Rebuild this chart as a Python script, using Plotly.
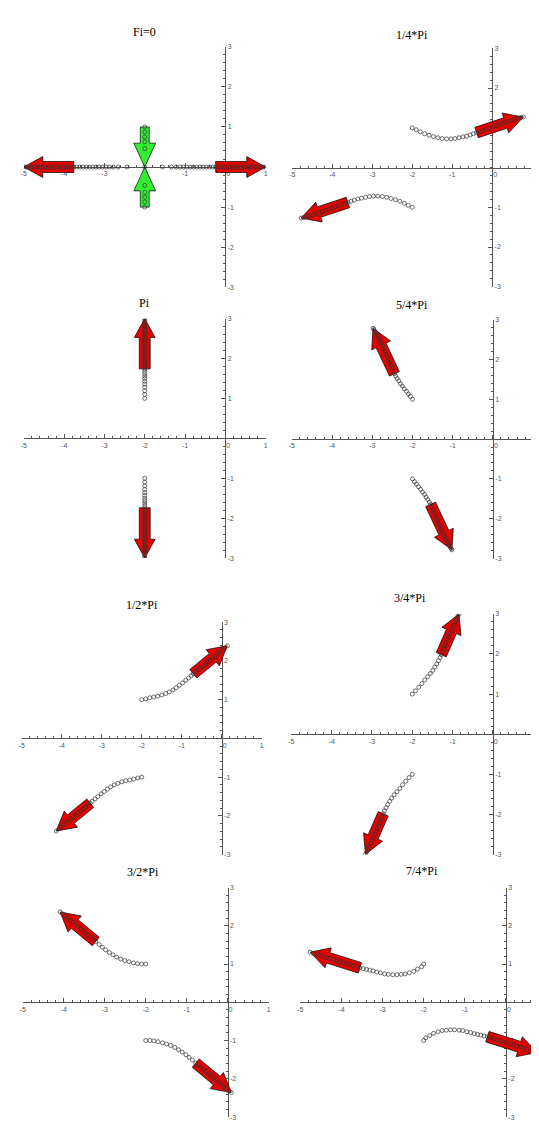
import math
import plotly.graph_objects as go

W, H = 539, 1122

TITLES = ["Fi=0", "1/4*Pi", "Pi", "5/4*Pi", "1/2*Pi", "3/4*Pi", "3/2*Pi", "7/4*Pi"]
X_TICKVALS = [-5, -4, -3, -2, -1, 0, 1]
X_TICKTEXT = ["-5", "-4", "-3", "-2", "-1", "\u00a0\u00a0\u00a00", "1"]
Y_TICKVALS = [-3, -2, -1, 1, 2, 3]
Y_TICKTEXT = ["-3", "-2", "-1", "1", "2", "3"]

# ---------------- Panel 1: Fi=0 ----------------
P1_R_X = [-1.56, -1.34, -1.22, -1.12, -1.04, -0.95, -0.87, -0.79, -0.71, -0.63, -0.55, -0.47, -0.39,
          -0.31, -0.24, -0.17, -0.10, -0.03, 0.04, 0.11, 0.18, 0.25, 0.32, 0.39, 0.46, 0.53, 0.60,
          0.67, 0.74, 0.81, 0.88, 0.94, 1.00]
P1_R_Y = [0.0] * len(P1_R_X)
P1_L_X = [-2.44, -2.66, -2.78, -2.88, -2.96, -3.05, -3.13, -3.21, -3.29, -3.37, -3.45, -3.53, -3.61,
          -3.69, -3.76, -3.83, -3.90, -3.97, -4.04, -4.11, -4.18, -4.25, -4.32, -4.39, -4.46, -4.53,
          -4.60, -4.67, -4.74, -4.81, -4.88, -4.94, -5.00]
P1_L_Y = [0.0] * len(P1_L_X)
P1_UP_Y = [1.00, 0.87, 0.75, 0.63, 0.46, 0.0]
P1_UP_X = [-2.0] * len(P1_UP_Y)
P1_DN_Y = [-1.00, -0.87, -0.75, -0.63, -0.46]
P1_DN_X = [-2.0] * len(P1_DN_Y)
P1_TAILS = [(-0.24, 0.0), (-3.76, 0.0)]
P1_GREEN = [(-2.0, 1.0, -2.0, 0.0), (-2.0, -1.0, -2.0, 0.0)]

# ---------------- Panel 2: 1/4*Pi ----------------
P2_A_X = [-2.00, -1.90, -1.80, -1.69, -1.58, -1.47, -1.36, -1.25, -1.14, -1.03, -0.93, -0.83, -0.73,
          -0.64, -0.55, -0.47, -0.39, -0.31, -0.23, -0.15, -0.07, 0.01, 0.09, 0.17, 0.25, 0.33,
          0.41, 0.49, 0.57, 0.65, 0.72, 0.78]
P2_A_Y = [1.00, 0.95, 0.90, 0.85, 0.81, 0.78, 0.75, 0.73, 0.72, 0.72, 0.73, 0.75, 0.77, 0.79, 0.82,
          0.85, 0.88, 0.90, 0.93, 0.96, 0.99, 1.02, 1.05, 1.08, 1.11, 1.14, 1.16, 1.19, 1.21, 1.24,
          1.26, 1.27]
P2_B_X = [-2.00, -2.10, -2.20, -2.31, -2.42, -2.53, -2.64, -2.75, -2.86, -2.97, -3.07, -3.17, -3.27,
          -3.36, -3.45, -3.53, -3.61, -3.69, -3.77, -3.85, -3.93, -4.01, -4.09, -4.17, -4.25, -4.33,
          -4.41, -4.49, -4.57, -4.65, -4.72, -4.78]
P2_B_Y = [-1.00, -0.95, -0.90, -0.85, -0.81, -0.78, -0.75, -0.73, -0.72, -0.72, -0.73, -0.75, -0.77,
          -0.79, -0.82, -0.85, -0.88, -0.90, -0.93, -0.96, -0.99, -1.02, -1.05, -1.08, -1.11, -1.14,
          -1.16, -1.19, -1.21, -1.24, -1.26, -1.27]
P2_TAILS = [(-0.39, 0.88), (-3.61, -0.88)]

# ---------------- Panel 3: Pi ----------------
P3_A_Y = [1.00, 1.10, 1.19, 1.28, 1.36, 1.43, 1.50, 1.56, 1.62, 1.68, 1.74, 1.80, 1.86, 1.92, 1.98,
          2.04, 2.10, 2.16, 2.22, 2.28, 2.34, 2.40, 2.46, 2.52, 2.58, 2.64, 2.70, 2.76, 2.82, 2.88,
          2.94, 3.00]
P3_A_X = [-2.0] * len(P3_A_Y)
P3_B_Y = [-1.00, -1.10, -1.19, -1.28, -1.36, -1.43, -1.50, -1.56, -1.62, -1.68, -1.74, -1.80, -1.86,
          -1.92, -1.98, -2.04, -2.10, -2.16, -2.22, -2.28, -2.34, -2.40, -2.46, -2.52, -2.58, -2.64,
          -2.70, -2.76, -2.82, -2.88, -2.94, -3.00]
P3_B_X = [-2.0] * len(P3_B_Y)
P3_TAILS = [(-2.0, 1.74), (-2.0, -1.74)]

# ---------------- Panel 4: 5/4*Pi ----------------
P4_A_X = [-2.00, -2.05, -2.10, -2.15, -2.20, -2.25, -2.30, -2.34, -2.38, -2.42, -2.45, -2.48, -2.51,
          -2.54, -2.57, -2.60, -2.63, -2.66, -2.69, -2.72, -2.75, -2.78, -2.81, -2.84, -2.87, -2.90,
          -2.93, -2.96, -2.98]
P4_A_Y = [1.00, 1.07, 1.13, 1.20, 1.26, 1.33, 1.39, 1.46, 1.52, 1.58, 1.64, 1.71, 1.78, 1.85, 1.92,
          1.99, 2.06, 2.13, 2.20, 2.27, 2.34, 2.41, 2.47, 2.53, 2.59, 2.65, 2.70, 2.75, 2.78]
P4_B_X = [-2.00, -1.95, -1.90, -1.85, -1.80, -1.75, -1.70, -1.66, -1.62, -1.58, -1.55, -1.52, -1.49,
          -1.46, -1.43, -1.40, -1.37, -1.34, -1.31, -1.28, -1.25, -1.22, -1.19, -1.16, -1.13, -1.10,
          -1.07, -1.04, -1.02]
P4_B_Y = [-1.00, -1.07, -1.13, -1.20, -1.26, -1.33, -1.39, -1.46, -1.52, -1.58, -1.64, -1.71, -1.78,
          -1.85, -1.92, -1.99, -2.06, -2.13, -2.20, -2.27, -2.34, -2.41, -2.47, -2.53, -2.59, -2.65,
          -2.70, -2.75, -2.78]
P4_TAILS = [(-2.45, 1.64), (-1.55, -1.64)]

# ---------------- Panel 5: 1/2*Pi ----------------
P5_A_X = [-2.00, -1.90, -1.80, -1.70, -1.60, -1.50, -1.40, -1.31, -1.22, -1.14, -1.06, -0.98, -0.90,
          -0.83, -0.76, -0.71, -0.65, -0.59, -0.53, -0.47, -0.41, -0.35, -0.29, -0.23, -0.17, -0.11,
          -0.05, 0.01, 0.07, 0.14]
P5_A_Y = [1.00, 1.02, 1.05, 1.07, 1.09, 1.12, 1.16, 1.20, 1.25, 1.31, 1.37, 1.43, 1.50, 1.56, 1.62,
          1.67, 1.72, 1.77, 1.82, 1.87, 1.92, 1.97, 2.02, 2.07, 2.12, 2.17, 2.22, 2.27, 2.33, 2.39]
P5_B_X = [-2.00, -2.10, -2.20, -2.30, -2.40, -2.50, -2.60, -2.69, -2.78, -2.86, -2.94, -3.02, -3.10,
          -3.17, -3.24, -3.29, -3.35, -3.41, -3.47, -3.53, -3.59, -3.65, -3.71, -3.77, -3.83, -3.89,
          -3.95, -4.01, -4.07, -4.14]
P5_B_Y = [-1.00, -1.02, -1.05, -1.07, -1.09, -1.12, -1.16, -1.20, -1.25, -1.31, -1.37, -1.43, -1.50,
          -1.56, -1.62, -1.67, -1.72, -1.77, -1.82, -1.87, -1.92, -1.97, -2.02, -2.07, -2.12, -2.17,
          -2.22, -2.27, -2.33, -2.39]
P5_TAILS = [(-0.71, 1.67), (-3.29, -1.67)]

# ---------------- Panel 6: 3/4*Pi ----------------
P6_A_X = [-2.00, -1.92, -1.84, -1.76, -1.69, -1.62, -1.55, -1.49, -1.44, -1.39, -1.35, -1.31, -1.28,
          -1.25, -1.22, -1.19, -1.16, -1.13, -1.10, -1.06, -1.03, -1.00, -0.97, -0.93, -0.90, -0.87,
          -0.84]
P6_A_Y = [1.00, 1.08, 1.17, 1.26, 1.35, 1.43, 1.51, 1.59, 1.67, 1.75, 1.83, 1.91, 1.98, 2.05, 2.13,
          2.20, 2.28, 2.35, 2.42, 2.50, 2.57, 2.64, 2.72, 2.79, 2.86, 2.93, 2.99]
P6_B_X = [-2.00, -2.08, -2.16, -2.24, -2.31, -2.38, -2.45, -2.51, -2.56, -2.61, -2.65, -2.69, -2.72,
          -2.75, -2.78, -2.81, -2.84, -2.87, -2.90, -2.94, -2.97, -3.00, -3.03, -3.07, -3.10, -3.13,
          -3.16]
P6_B_Y = [-1.00, -1.08, -1.17, -1.26, -1.35, -1.43, -1.51, -1.59, -1.67, -1.75, -1.83, -1.91, -1.98,
          -2.05, -2.13, -2.20, -2.28, -2.35, -2.42, -2.50, -2.57, -2.64, -2.72, -2.79, -2.86, -2.93,
          -2.99]
P6_TAILS = [(-1.28, 1.98), (-2.72, -1.98)]

# ---------------- Panel 7: 3/2*Pi ----------------
P7_A_X = [-2.00, -2.10, -2.20, -2.30, -2.41, -2.51, -2.61, -2.71, -2.80, -2.89, -2.98, -3.06, -3.14,
          -3.22, -3.28, -3.34, -3.41, -3.47, -3.53, -3.59, -3.65, -3.72, -3.78, -3.84, -3.90, -3.96,
          -4.03, -4.09]
P7_A_Y = [1.00, 1.00, 1.01, 1.03, 1.06, 1.09, 1.13, 1.18, 1.24, 1.30, 1.37, 1.44, 1.51, 1.59, 1.65,
          1.70, 1.76, 1.81, 1.87, 1.92, 1.98, 2.03, 2.09, 2.14, 2.20, 2.25, 2.31, 2.36]
P7_B_X = [-2.00, -1.90, -1.80, -1.70, -1.59, -1.49, -1.39, -1.29, -1.20, -1.11, -1.02, -0.94, -0.86,
          -0.78, -0.72, -0.66, -0.59, -0.53, -0.47, -0.41, -0.35, -0.28, -0.22, -0.16, -0.10, -0.04,
          0.03, 0.09]
P7_B_Y = [-1.00, -1.00, -1.01, -1.03, -1.06, -1.09, -1.13, -1.18, -1.24, -1.30, -1.37, -1.44, -1.51,
          -1.59, -1.65, -1.70, -1.76, -1.81, -1.87, -1.92, -1.98, -2.03, -2.09, -2.14, -2.20, -2.25,
          -2.31, -2.36]
P7_TAILS = [(-3.22, 1.59), (-0.78, -1.59)]

# ---------------- Panel 8: 7/4*Pi ----------------
P8_A_X = [-2.00, -2.05, -2.15, -2.24, -2.35, -2.45, -2.55, -2.65, -2.75, -2.86, -2.95, -3.05, -3.14,
          -3.23, -3.31, -3.39, -3.47, -3.55, -3.63, -3.71, -3.79, -3.87, -3.95, -4.03, -4.11, -4.19,
          -4.27, -4.35, -4.44, -4.52, -4.60, -4.68, -4.76]
P8_A_Y = [1.00, 0.93, 0.87, 0.81, 0.77, 0.74, 0.73, 0.72, 0.72, 0.73, 0.74, 0.77, 0.79, 0.82, 0.84,
          0.86, 0.88, 0.90, 0.93, 0.95, 0.98, 1.01, 1.04, 1.06, 1.09, 1.12, 1.15, 1.17, 1.20, 1.23,
          1.26, 1.28, 1.31]
P8_B_X = [-2.00, -1.95, -1.85, -1.76, -1.65, -1.55, -1.45, -1.35, -1.25, -1.14, -1.05, -0.95, -0.86,
          -0.77, -0.69, -0.61, -0.53, -0.45, -0.37, -0.29, -0.21, -0.13, -0.05, 0.03, 0.11, 0.19,
          0.27, 0.35, 0.44, 0.52, 0.60, 0.68, 0.76]
P8_B_Y = [-1.00, -0.93, -0.87, -0.81, -0.77, -0.74, -0.73, -0.72, -0.72, -0.73, -0.74, -0.77, -0.79,
          -0.82, -0.84, -0.86, -0.88, -0.90, -0.93, -0.95, -0.98, -1.01, -1.04, -1.06, -1.09, -1.12,
          -1.15, -1.17, -1.20, -1.23, -1.26, -1.28, -1.31]
P8_TAILS = [(-3.55, 0.90), (-0.45, -0.90)]

# ---------------- layout (pixel boxes: left(x=-5), right, top(y=3), bottom(y=-3), x-range end) ------
BOXES = [
    (13.0, 257.0, 35.0, 277.0, 1.0),
    (284.0, 526.0, 36.5, 276.5, 1.0),
    (13.0, 257.0, 308.5, 549.5, 1.0),
    (283.5, 527.0, 309.5, 550.0, 1.0),
    (11.0, 253.0, 614.0, 848.0, 1.0),
    (283.0, 527.0, 605.5, 848.0, 1.0),
    (12.0, 260.0, 881.0, 1112.0, 1.0),
    (292.0, 539.0, 881.0, 1112.0, 0.95),
]
TITLE_POS = [(135, 20), (405, 23), (135, 293), (405, 295), (132, 597), (403, 590), (133, 865), (415, 864)]

RED = "#e80000"
GREEN = "#33ee33"
RED_DIMS = (11.0, 21.0, 19.0)     # shaft width, head width, head length (px)
GREEN_DIMS = (9.0, 22.0, 24.0)

curves = [
    [(P1_R_X, P1_R_Y), (P1_L_X, P1_L_Y), (P1_UP_X, P1_UP_Y), (P1_DN_X, P1_DN_Y)],
    [(P2_A_X, P2_A_Y), (P2_B_X, P2_B_Y)],
    [(P3_A_X, P3_A_Y), (P3_B_X, P3_B_Y)],
    [(P4_A_X, P4_A_Y), (P4_B_X, P4_B_Y)],
    [(P5_A_X, P5_A_Y), (P5_B_X, P5_B_Y)],
    [(P6_A_X, P6_A_Y), (P6_B_X, P6_B_Y)],
    [(P7_A_X, P7_A_Y), (P7_B_X, P7_B_Y)],
    [(P8_A_X, P8_A_Y), (P8_B_X, P8_B_Y)],
]
tails = [P1_TAILS, P2_TAILS, P3_TAILS, P4_TAILS, P5_TAILS, P6_TAILS, P7_TAILS, P8_TAILS]


def arrow_poly(x0, y0, x1, y1, sx, sy, dims):
    w, hw, hl = dims
    dx, dy = (x1 - x0) * sx, (y1 - y0) * sy
    L = math.hypot(dx, dy)
    ux, uy = dx / L, dy / L
    nx, ny = -uy, ux
    nk = L - hl
    pts = [
        (nx * w / 2, ny * w / 2),
        (ux * nk + nx * w / 2, uy * nk + ny * w / 2),
        (ux * nk + nx * hw / 2, uy * nk + ny * hw / 2),
        (dx, dy),
        (ux * nk - nx * hw / 2, uy * nk - ny * hw / 2),
        (ux * nk - nx * w / 2, uy * nk - ny * w / 2),
        (-nx * w / 2, -ny * w / 2),
    ]
    pts.append(pts[0])
    return [x0 + p[0] / sx for p in pts], [y0 + p[1] / sy for p in pts]


fig = go.Figure()
layout = dict(width=W, height=H, margin=dict(l=0, r=0, t=0, b=0), showlegend=False,
              paper_bgcolor="white", plot_bgcolor="white", annotations=[])

for i in range(8):
    L, R, T, B, xend = BOXES[i]
    xr = [-5.0, xend]
    sx = (R - L) / (xr[1] - xr[0])
    sy = (B - T) / 6.0
    xdom = [L / W, R / W]
    ydom = [1 - B / H, 1 - T / H]
    xpos0 = xdom[0] + (0 - xr[0]) / (xr[1] - xr[0]) * (xdom[1] - xdom[0])
    ypos0 = (ydom[0] + ydom[1]) / 2
    sfx = "" if i == 0 else str(i + 1)
    xa, ya = "x" + sfx, "y" + sfx

    # arrows first
    for (cx, cy), (tx, ty) in zip(curves[i][:2], tails[i]):
        ax, ay = arrow_poly(tx, ty, cx[-1], cy[-1], sx, sy, RED_DIMS)
        fig.add_trace(go.Scatter(x=ax, y=ay, mode="lines", fill="toself", fillcolor=RED,
                                 line=dict(color="black", width=0.7), xaxis=xa, yaxis=ya,
                                 hoverinfo="skip"))
    if i == 0:
        for (gx0, gy0, gx1, gy1) in P1_GREEN:
            ax, ay = arrow_poly(gx0, gy0, gx1, gy1, sx, sy, GREEN_DIMS)
            fig.add_trace(go.Scatter(x=ax, y=ay, mode="lines", fill="toself", fillcolor=GREEN,
                                     line=dict(color="black", width=0.7), xaxis=xa, yaxis=ya,
                                     hoverinfo="skip"))
    for (cx, cy) in curves[i]:
        fig.add_trace(go.Scatter(x=cx, y=cy, mode="markers", xaxis=xa, yaxis=ya,
                                 marker=dict(symbol="circle-open", size=4, color="#333",
                                             line=dict(width=0.7))))

    axcommon = dict(showgrid=False, zeroline=False, showline=True, linecolor="#555", linewidth=1,
                    ticks="inside", ticklen=4, tickcolor="#555", tickwidth=1,
                    tickfont=dict(family="Liberation Sans", size=7, color="#555"),
                    tickmode="array", anchor="free", layer="below traces", fixedrange=True,
                    minor=dict(ticks="inside", ticklen=2, tickcolor="#555", tickmode="linear",
                               tick0=0, dtick=0.2))
    layout["xaxis" + sfx] = dict(axcommon, domain=xdom, range=xr, position=ypos0,
                                 tickvals=X_TICKVALS, ticktext=X_TICKTEXT)
    layout["yaxis" + sfx] = dict(axcommon, domain=ydom, range=[-3, 3], position=xpos0, side="right",
                                 tickvals=Y_TICKVALS, ticktext=Y_TICKTEXT)
    tx, ty = TITLE_POS[i]
    layout["annotations"].append(dict(text=TITLES[i], x=tx / W, y=1 - ty / H, xref="paper",
                                      yref="paper", showarrow=False, xanchor="center",
                                      yanchor="middle",
                                      font=dict(family="Liberation Serif", size=12, color="black")))

fig.update_layout(**layout)
fig.write_html("out.html")
